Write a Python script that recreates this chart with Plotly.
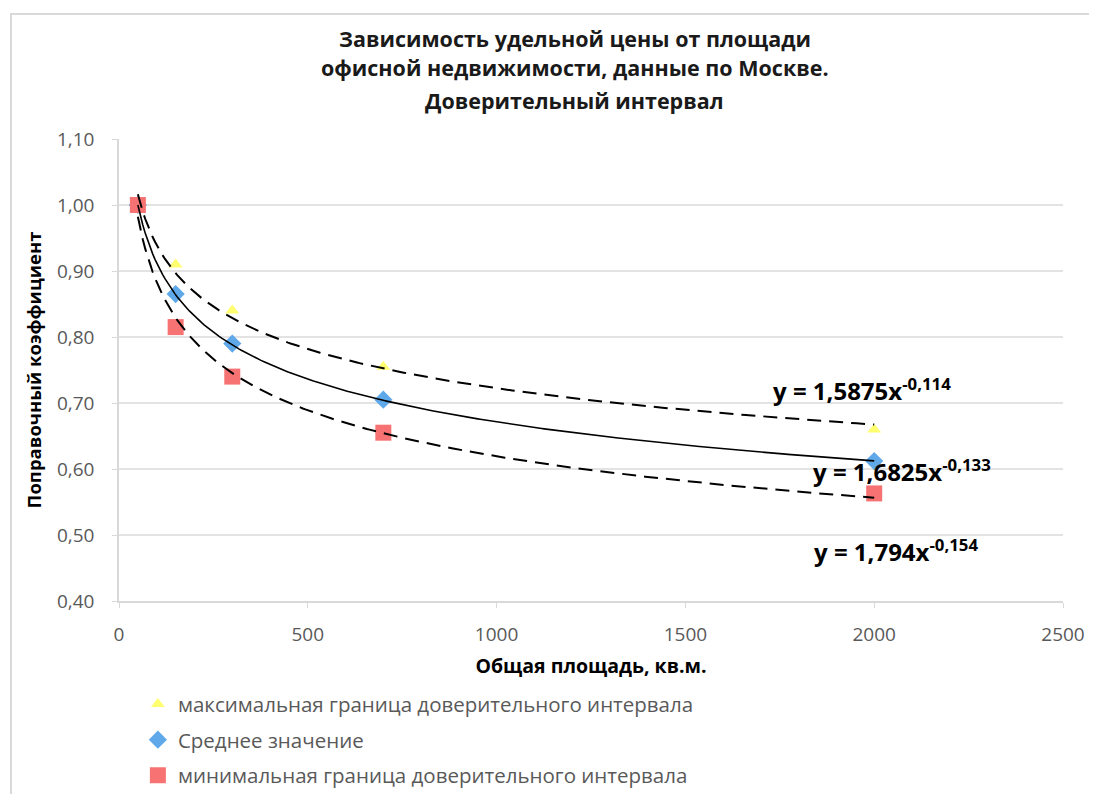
import numpy as np
import plotly.graph_objects as go

# ---- data ----
area = [50, 150, 300, 700, 2000]
max_bound = [1.00, 0.91, 0.84, 0.755, 0.66]
mean_val = [1.00, 0.865, 0.79, 0.705, 0.612]
min_bound = [1.00, 0.815, 0.74, 0.655, 0.563]

series_names = [
    "максимальная граница доверительного интервала",
    "Среднее значение",
    "минимальная граница доверительного интервала",
]
# power trendline coefficients y = a * x^b (as printed on the chart)
trend_a = [1.5875, 1.6825, 1.794]
trend_b = [-0.114, -0.133, -0.154]
trend_labels = [
    "y = 1,5875x<sup>-0,114</sup>",
    "y = 1,6825x<sup>-0,133</sup>",
    "y = 1,794x<sup>-0,154</sup>",
]
label_pos = [(1968, 0.72), (2074, 0.598), (2058, 0.477)]

title_lines = [
    "Зависимость удельной цены от площади",
    "офисной недвижимости, данные по Москве.",
    "Доверительный интервал",
]

x_ticks = [0, 500, 1000, 1500, 2000, 2500]
y_ticks = [0.40, 0.50, 0.60, 0.70, 0.80, 0.90, 1.00, 1.10]

FONT = "Open Sans, sans-serif"

fig = go.Figure()

marker_styles = [
    dict(symbol="triangle-up", size=12, color="#FFFF70"),
    dict(symbol="diamond", size=14, color="#5FA8EA"),
    dict(symbol="square", size=16, color="#F77373"),
]
for i, ys in enumerate([max_bound, mean_val, min_bound]):
    fig.add_trace(go.Scatter(
        x=area, y=ys, mode="markers", name=series_names[i],
        marker=marker_styles[i], legendgroup=f"g{i}",
    ))

xs = np.linspace(min(area), max(area), 300)
dashes = ["14px,8px", "solid", "14px,8px"]
widths = [2, 1.6, 2]
for i in range(3):
    fig.add_trace(go.Scatter(
        x=xs, y=trend_a[i] * xs ** trend_b[i], mode="lines",
        line=dict(color="black", width=widths[i], dash=dashes[i]),
        showlegend=False, hoverinfo="skip",
    ))

for i in range(3):
    fig.add_annotation(
        x=label_pos[i][0], y=label_pos[i][1], xref="x", yref="y",
        text="<b>" + trend_labels[i] + "</b>", showarrow=False,
        font=dict(family=FONT, size=24, color="black"),
    )

# chart title, one line per annotation to match the line spacing
title_y = [1.2186, 1.1537, 1.0844]
for line, ty in zip(title_lines, title_y):
    fig.add_annotation(
        x=0.483, y=ty, xref="paper", yref="paper",
        xanchor="center", yanchor="middle",
        text="<b>" + line + "</b>", showarrow=False,
        font=dict(family=FONT, size=21.5, color="#1a1a1a"),
    )

# outer chart frame
fig.add_shape(type="rect", xref="paper", yref="paper",
              x0=-0.1144, x1=1.2, y0=-0.6, y1=1.2706,
              line=dict(color="#D9D9D9", width=2), layer="below")

fig.update_layout(
    width=1089, height=786,
    separators=", ",
    paper_bgcolor="white", plot_bgcolor="white",
    margin=dict(l=111, r=34, t=131, b=193, autoexpand=False),
    showlegend=True,
    legend=dict(
        x=0.02, y=-0.18, xanchor="left", yanchor="top",
        orientation="v", tracegroupgap=6,
        font=dict(family=FONT, size=20.5, color="#595959"),
        itemwidth=30,
    ),
    xaxis=dict(
        range=[0, 2500], tickvals=x_ticks, tickformat="d",
        showgrid=False, zeroline=False,
        showline=True, linecolor="#D9D9D9", linewidth=2,
        ticks="outside", ticklen=5, tickcolor="#D9D9D9",
        ticklabelstandoff=10,
        tickfont=dict(family=FONT, size=19, color="#595959"),
        title=dict(text="<b>Общая площадь, кв.м.</b>", standoff=14,
                   font=dict(family=FONT, size=19.5, color="black")),
    ),
    yaxis=dict(
        range=[0.40, 1.10], tickvals=y_ticks, tickformat=".2f",
        showgrid=True, gridcolor="#E3E3E3", gridwidth=1.5, zeroline=False,
        showline=True, linecolor="#D9D9D9", linewidth=1.5,
        ticks="outside", ticklen=5, tickcolor="#D9D9D9",
        ticklabelstandoff=14,
        tickfont=dict(family=FONT, size=19, color="#595959"),
        title=dict(text="<b>Поправочный коэффициент</b>", standoff=10,
                   font=dict(family=FONT, size=18.5, color="black")),
    ),
)

fig.write_html("out.html")
